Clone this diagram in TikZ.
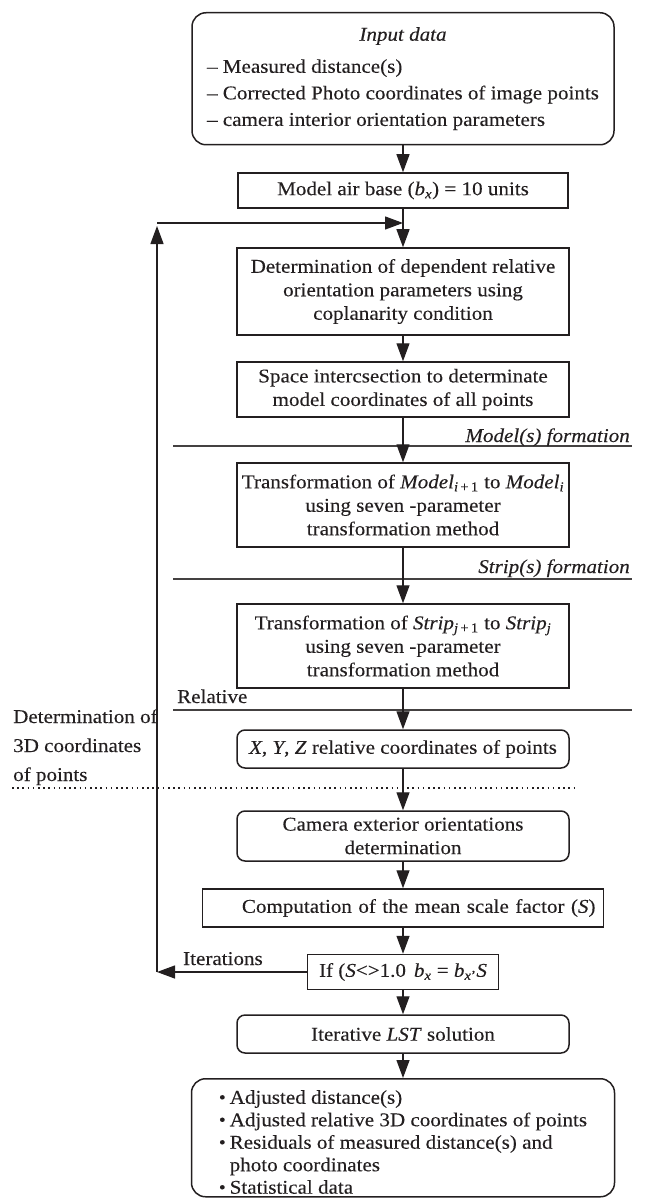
\documentclass[tikz,border=0pt]{standalone}
\usepackage{fontspec}
\setmainfont[FakeStretch=1.08,FakeBold=0.2]{Liberation Serif}
\usetikzlibrary{arrows.meta}
\definecolor{ink}{HTML}{231F20}
\newcommand\mainsz{\fontsize{19.5}{23.5}\selectfont}
\newcommand\ix[1]{\textit{#1}}
\newcommand\smbul{{\fontsize{18}{18}\selectfont\raisebox{0.5pt}{•}}}
\begin{document}
\begin{tikzpicture}[x=1pt,y=-1pt,
  box/.style={draw=ink, line width=1.5pt, rectangle, inner sep=0pt, align=center, font=\mainsz, text=ink},
  rbox/.style={box, rounded corners=8pt},
  arr/.style={draw=ink, line width=1.3pt, -{Triangle[length=18pt,width=13pt]}},
  sepline/.style={draw=ink!85, line width=1.3pt},
  lbl/.style={inner sep=0pt, font=\mainsz, text=ink}]
\useasboundingbox (0,0) rectangle (645,1198);

% input box
\node[rbox, rounded corners=14pt, minimum width=422pt, text height=28pt, text depth=104pt, anchor=north] (input) at (403,12)
 {\renewcommand\arraystretch{1.13}\begin{tabular}[t]{@{}l@{}}\multicolumn{1}{@{}c@{}}{\ix{Input data}}\\[5.5pt]
 – Measured distance(s)\\ – Corrected Photo coordinates of image points\\ – camera interior orientation parameters\end{tabular}};

\node[box, minimum width=330pt, minimum height=35pt] (airbase) at (403,190.5)
 {Model air base (\ix{b}\textsubscript{\ix{x}}) = 10 units};

\node[box, minimum width=332pt, minimum height=87pt] (determ) at (403,291.5)
 {Determination of dependent relative\\ orientation parameters using\\ coplanarity condition};

\node[box, minimum width=332pt, minimum height=55pt] (space) at (403,389.5)
 {Space intercsection to determinate\\ model coordinates of all points};

\node[box, minimum width=332pt, minimum height=84pt] (transM) at (403,505)
 {Transformation of \ix{Model}\textsubscript{\ix{i}\,+\,1} to \ix{Model}\textsubscript{\ix{i}}\\ using seven -parameter\\ transformation method};

\node[box, minimum width=332pt, minimum height=84pt] (transS) at (403,646)
 {Transformation of \ix{Strip}\textsubscript{\ix{j}\,+\,1} to \ix{Strip}\textsubscript{\ix{j}}\\ using seven -parameter\\ transformation method};

\node[rbox, minimum width=332pt, minimum height=38pt] (xyz) at (403,749)
 {\ix{X}, \ix{Y}, \ix{Z} relative coordinates of points};

\node[rbox, minimum width=332pt, minimum height=50pt] (camera) at (403,836)
 {Camera exterior orientations\\ determination};

\node[box, inner xsep=8pt, text width=385pt, align=right, minimum height=38pt] (comp) at (403,908)
 {Computation of the mean scale factor (\ix{S})};

\node[box, minimum width=191pt, minimum height=35pt] (ifb) at (403,972)
 {If (\ix{S}<>1.0\hspace{8pt}\ix{b}\textsubscript{\ix{x}} = \ix{b}\textsubscript{\ix{x}’}\ix{S}};

\node[rbox, minimum width=332pt, minimum height=38pt] (lst) at (403,1034)
 {Iterative \ix{LST} solution};

\node[rbox, rounded corners=14pt, minimum width=423pt, text height=25pt, text depth=93pt, anchor=north] (out) at (403,1078)
 {\renewcommand\arraystretch{0.957}\begin{tabular}[t]{@{}l@{\hspace{4pt}}l@{}}
 \smbul & Adjusted distance(s)\\
 \smbul & Adjusted relative 3D coordinates of points\\
 \smbul & Residuals of measured distance(s) and\\
  & photo coordinates\\
 \smbul & Statistical data\end{tabular}};

% separator lines and labels
\coordinate (m1) at (173,446); \coordinate (m2) at (632,446);
\coordinate (s1) at (173,579); \coordinate (s2) at (632,579);
\coordinate (r1) at (173,710); \coordinate (r2) at (632,710);
\coordinate (d1) at (12,788);  \coordinate (d2) at (574,788);
\draw[sepline] (m1) -- (m2);
\draw[sepline] (s1) -- (s2);
\draw[sepline] (r1) -- (r2);
\draw[draw=ink, line width=1.3pt, dash pattern=on 1.6pt off 3.6pt] (d1) -- (d2);
\node[lbl, anchor=base east] (mlab) at (630,442) {\ix{Model(s) formation}};
\node[lbl, anchor=base east] (slab) at (630,573) {\ix{Strip(s) formation}};
\node[lbl, anchor=base west] (rlab) at (177,703) {Relative};
\node[lbl, anchor=base west] (dlab) at (13,723)
 {\renewcommand\arraystretch{1.234}\begin{tabular}[t]{@{}l@{}}Determination of\\ 3D coordinates\\ of points\end{tabular}};
\node[lbl, anchor=base west] (itlab) at (183,965) {Iterations};

% main flow
\draw[arr] (input) -- (airbase);
\draw[arr] (airbase) -- (determ);
\draw[arr] (determ) -- (space);
\draw[arr] (space) -- (transM);
\draw[arr] (transM) -- (transS);
\draw[arr] (transS) -- (xyz);
\draw[arr] (xyz) -- (camera);
\draw[arr] (camera) -- (comp);
\draw[arr] (comp) -- (ifb);
\draw[arr] (ifb) -- (lst);
\draw[arr] (lst) -- (out);

% iteration loop
\coordinate (lb) at (157,972);
\coordinate (lt) at (157,226);
\coordinate (lh) at (157,223);
\coordinate (le) at (403,223);
\draw[arr] (ifb.west) -- (lb);
\draw[arr] (lb) -- (lt);
\draw[arr] (lh) -- (le);
\end{tikzpicture}
\end{document}
